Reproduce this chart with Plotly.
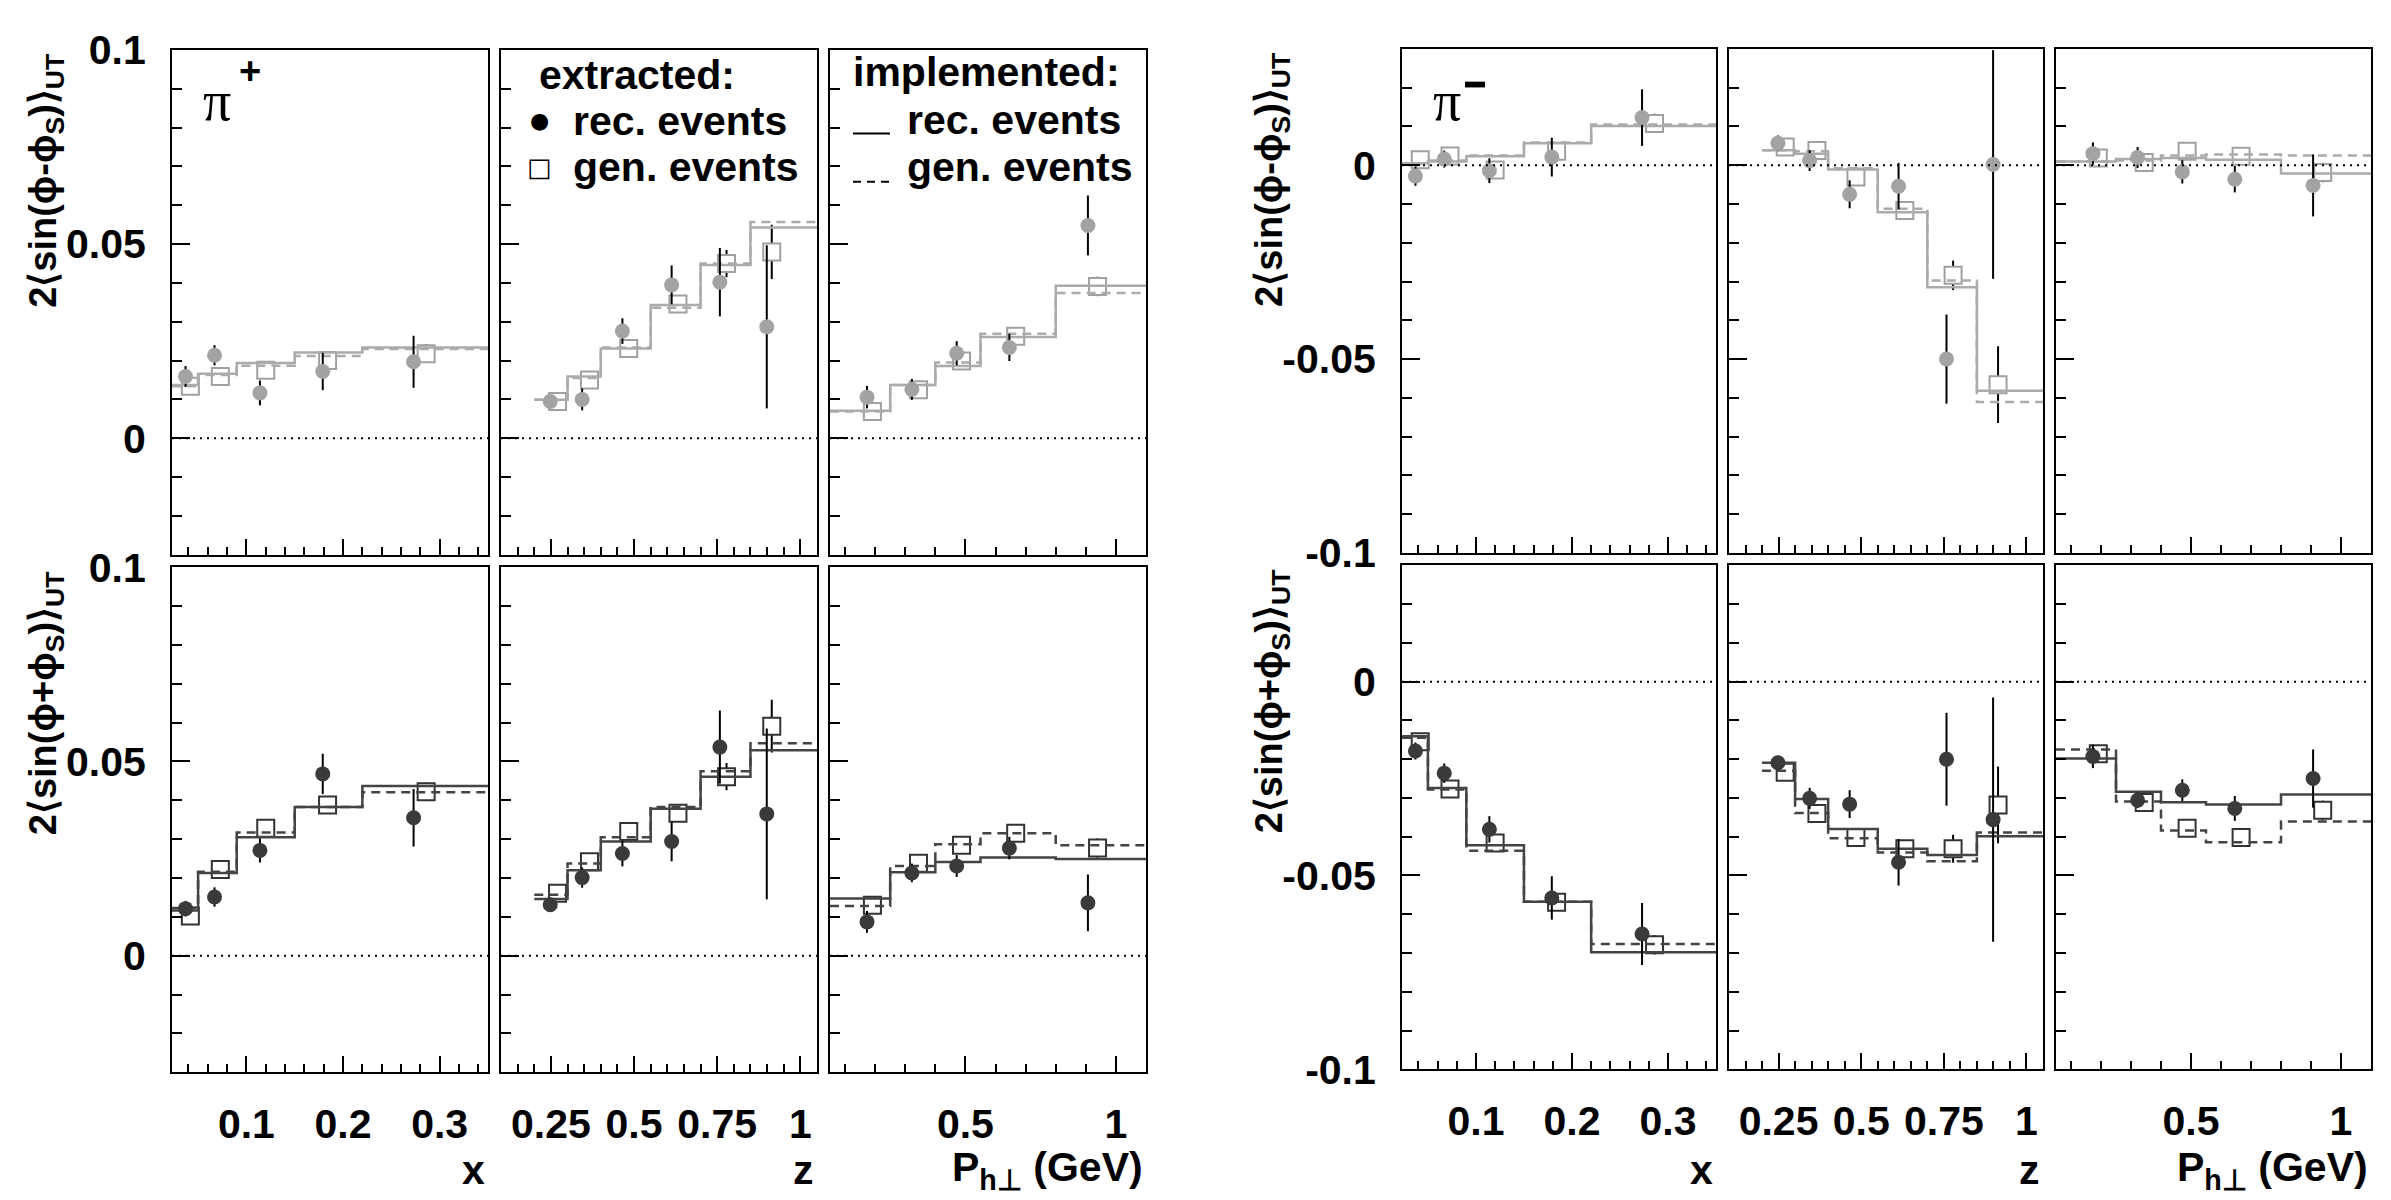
import plotly.graph_objects as go

W, H = 2391, 1200

# ---------------- binning / kinematic positions ----------------
X_EDGES = [0.023, 0.05, 0.09, 0.15, 0.22, 0.35]
Z_EDGES = [0.2, 0.3, 0.4, 0.55, 0.7, 0.85, 1.05]
PH_EDGES = [0.05, 0.25, 0.4, 0.55, 0.8, 1.1]

X_REC = [0.037, 0.067, 0.114, 0.179, 0.273]
X_GEN = [0.042, 0.073, 0.120, 0.184, 0.286]
Z_REC = [0.248, 0.344, 0.465, 0.613, 0.758, 0.899]
Z_GEN = [0.270, 0.366, 0.484, 0.632, 0.778, 0.914]
PH_REC = [0.173, 0.322, 0.471, 0.646, 0.907]
PH_GEN = [0.191, 0.344, 0.487, 0.667, 0.939]

# ---------------- pi+  2<sin(phi-phiS)>  ----------------
PIP_M_X_REC = [0.0159, 0.0214, 0.0117, 0.0172, 0.0197]
PIP_M_X_REC_ERR = [0.0027, 0.0026, 0.0032, 0.0048, 0.0067]
PIP_M_X_GEN = [0.0134, 0.0159, 0.0175, 0.0200, 0.0218]
PIP_M_X_GEN_ERR = [0.0010, 0.0010, 0.0012, 0.0015, 0.0024]
PIP_M_X_SOLID = [0.0137, 0.0166, 0.0194, 0.0221, 0.0234]
PIP_M_X_DASH = [0.0134, 0.0163, 0.0187, 0.0212, 0.0230]

PIP_M_Z_REC = [0.0095, 0.0100, 0.0276, 0.0395, 0.0402, 0.0287]
PIP_M_Z_REC_ERR = [0.0015, 0.0028, 0.0033, 0.0050, 0.0088, 0.0210]
PIP_M_Z_GEN = [0.0095, 0.0150, 0.0231, 0.0346, 0.0450, 0.0480]
PIP_M_Z_GEN_ERR = [0.0010, 0.0012, 0.0015, 0.0020, 0.0035, 0.0070]
PIP_M_Z_SOLID = [0.0099, 0.0159, 0.0231, 0.0343, 0.0446, 0.0543]
PIP_M_Z_DASH = [0.0099, 0.0155, 0.0234, 0.0336, 0.0450, 0.0557]

PIP_M_PH_REC = [0.0106, 0.0126, 0.0219, 0.0234, 0.0548]
PIP_M_PH_REC_ERR = [0.0029, 0.0027, 0.0031, 0.0035, 0.0077]
PIP_M_PH_GEN = [0.0069, 0.0125, 0.0199, 0.0263, 0.0391]
PIP_M_PH_GEN_ERR = [0.0010, 0.0010, 0.0012, 0.0015, 0.0025]
PIP_M_PH_SOLID = [0.0071, 0.0137, 0.0186, 0.0261, 0.0393]
PIP_M_PH_DASH = [0.0069, 0.0137, 0.0195, 0.0269, 0.0374]

# ---------------- pi+  2<sin(phi+phiS)>  ----------------
PIP_P_X_REC = [0.0121, 0.0151, 0.0271, 0.0468, 0.0355]
PIP_P_X_REC_ERR = [0.0020, 0.0025, 0.0031, 0.0052, 0.0074]
PIP_P_X_GEN = [0.0102, 0.0222, 0.0328, 0.0388, 0.0422]
PIP_P_X_GEN_ERR = [0.0010, 0.0010, 0.0012, 0.0015, 0.0024]
PIP_P_X_SOLID = [0.0116, 0.0213, 0.0305, 0.0383, 0.0437]
PIP_P_X_DASH = [0.0123, 0.0216, 0.0317, 0.0383, 0.0421]

PIP_P_Z_REC = [0.0131, 0.0201, 0.0263, 0.0294, 0.0537, 0.0365]
PIP_P_Z_REC_ERR = [0.0018, 0.0026, 0.0033, 0.0051, 0.0094, 0.0220]
PIP_P_Z_GEN = [0.0161, 0.0242, 0.0320, 0.0367, 0.0461, 0.0591]
PIP_P_Z_GEN_ERR = [0.0010, 0.0012, 0.0015, 0.0020, 0.0035, 0.0068]
PIP_P_Z_SOLID = [0.0146, 0.0220, 0.0294, 0.0378, 0.0461, 0.0529]
PIP_P_Z_DASH = [0.0157, 0.0237, 0.0305, 0.0383, 0.0475, 0.0547]

PIP_P_PH_REC = [0.0087, 0.0213, 0.0231, 0.0277, 0.0136]
PIP_P_PH_REC_ERR = [0.0028, 0.0024, 0.0028, 0.0029, 0.0073]
PIP_P_PH_GEN = [0.0130, 0.0238, 0.0284, 0.0315, 0.0277]
PIP_P_PH_GEN_ERR = [0.0010, 0.0010, 0.0012, 0.0015, 0.0025]
PIP_P_PH_SOLID = [0.0147, 0.0215, 0.0241, 0.0253, 0.0249]
PIP_P_PH_DASH = [0.0128, 0.0231, 0.0287, 0.0315, 0.0284]

# ---------------- pi-  2<sin(phi-phiS)>  ----------------
PIM_M_X_REC = [-0.0028, 0.0016, -0.0014, 0.0021, 0.0123]
PIM_M_X_REC_ERR = [0.0025, 0.0022, 0.0032, 0.0050, 0.0073]
PIM_M_X_GEN = [0.0014, 0.0024, -0.0012, 0.0036, 0.0108]
PIM_M_X_GEN_ERR = [0.0010, 0.0010, 0.0012, 0.0015, 0.0025]
PIM_M_X_SOLID = [0.0005, 0.0010, 0.0023, 0.0057, 0.0101]
PIM_M_X_DASH = [0.0005, 0.0012, 0.0025, 0.0059, 0.0105]

PIM_M_Z_REC = [0.0057, 0.0012, -0.0075, -0.0054, -0.0500, 0.0002]
PIM_M_Z_REC_ERR = [0.0020, 0.0027, 0.0036, 0.0060, 0.0115, 0.0295]
PIM_M_Z_GEN = [0.0047, 0.0038, -0.0030, -0.0117, -0.0284, -0.0566]
PIM_M_Z_GEN_ERR = [0.0010, 0.0012, 0.0015, 0.0022, 0.0038, 0.0099]
PIM_M_Z_SOLID = [0.0039, 0.0030, -0.0011, -0.0121, -0.0315, -0.0582]
PIM_M_Z_DASH = [0.0039, 0.0036, -0.0008, -0.0112, -0.0297, -0.0611]

PIM_M_PH_REC = [0.0030, 0.0020, -0.0017, -0.0036, -0.0052]
PIM_M_PH_REC_ERR = [0.0029, 0.0027, 0.0030, 0.0034, 0.0080]
PIM_M_PH_GEN = [0.0019, 0.0007, 0.0036, 0.0023, -0.0019]
PIM_M_PH_GEN_ERR = [0.0010, 0.0010, 0.0012, 0.0015, 0.0025]
PIM_M_PH_SOLID = [0.0010, 0.0016, 0.0019, 0.0014, -0.0021]
PIM_M_PH_DASH = [0.0010, 0.0012, 0.0025, 0.0028, 0.0025]

# ---------------- pi-  2<sin(phi+phiS)>  ----------------
PIM_P_X_REC = [-0.0179, -0.0236, -0.0381, -0.0558, -0.0651]
PIM_P_X_REC_ERR = [0.0022, 0.0025, 0.0034, 0.0056, 0.0080]
PIM_P_X_GEN = [-0.0155, -0.0277, -0.0416, -0.0569, -0.0679]
PIM_P_X_GEN_ERR = [0.0010, 0.0010, 0.0012, 0.0015, 0.0025]
PIM_P_X_SOLID = [-0.0141, -0.0274, -0.0422, -0.0568, -0.0698]
PIM_P_X_DASH = [-0.0145, -0.0278, -0.0436, -0.0568, -0.0677]

PIM_P_Z_REC = [-0.0209, -0.0301, -0.0316, -0.0466, -0.0200, -0.0356]
PIM_P_Z_REC_ERR = [0.0018, 0.0027, 0.0036, 0.0060, 0.0120, 0.0315]
PIM_P_Z_GEN = [-0.0234, -0.0340, -0.0402, -0.0431, -0.0431, -0.0318]
PIM_P_Z_GEN_ERR = [0.0010, 0.0012, 0.0015, 0.0020, 0.0036, 0.0099]
PIM_P_Z_SOLID = [-0.0209, -0.0303, -0.0380, -0.0431, -0.0447, -0.0399]
PIM_P_Z_DASH = [-0.0230, -0.0339, -0.0404, -0.0441, -0.0463, -0.0389]

PIM_P_PH_REC = [-0.0193, -0.0306, -0.0280, -0.0327, -0.0250]
PIM_P_PH_REC_ERR = [0.0030, 0.0020, 0.0028, 0.0032, 0.0075]
PIM_P_PH_GEN = [-0.0186, -0.0312, -0.0378, -0.0402, -0.0332]
PIM_P_PH_GEN_ERR = [0.0010, 0.0010, 0.0012, 0.0015, 0.0025]
PIM_P_PH_SOLID = [-0.0198, -0.0284, -0.0311, -0.0317, -0.0291]
PIM_P_PH_DASH = [-0.0175, -0.0309, -0.0384, -0.0414, -0.0361]

# ---------------- axis tick labels ----------------
X_TICKVALS = [0.1, 0.2, 0.3]
X_TICKTEXT = ["0.1", "0.2", "0.3"]
Z_TICKVALS = [0.25, 0.5, 0.75, 1.0]
Z_TICKTEXT = ["0.25", "0.5", "0.75", "1"]
PH_TICKVALS = [0.5, 1.0]
PH_TICKTEXT = ["0.5", "1"]
YL_TICKVALS = [0.0, 0.05, 0.1]
YL_TICKTEXT = ["0", "0.05", "0.1"]
YR_TICKVALS = [-0.1, -0.05, 0.0]
YR_TICKTEXT = ["-0.1", "-0.05", "0"]

# ---------------- layout geometry (pixels) ----------------
COLS = {0: [(172, 488), (501, 817), (830, 1146)],
        1: [(1402, 1716), (1729, 2043), (2056, 2371)]}
ROWS = {0: [(28, 553), (566, 1091)],
        1: [(27, 551), (564, 1088)]}

VARS = [
    dict(edges=X_EDGES, xr=X_REC, xg=X_GEN, rng=[0.023, 0.35], tv=X_TICKVALS, tt=X_TICKTEXT, minor=0.02),
    dict(edges=Z_EDGES, xr=Z_REC, xg=Z_GEN, rng=[0.1, 1.05], tv=Z_TICKVALS, tt=Z_TICKTEXT, minor=0.05),
    dict(edges=PH_EDGES, xr=PH_REC, xg=PH_GEN, rng=[0.05, 1.1], tv=PH_TICKVALS, tt=PH_TICKTEXT, minor=0.1),
]

PANELS = {
    (0, 0): [(PIP_M_X_REC, PIP_M_X_REC_ERR, PIP_M_X_GEN, PIP_M_X_GEN_ERR, PIP_M_X_SOLID, PIP_M_X_DASH),
             (PIP_M_Z_REC, PIP_M_Z_REC_ERR, PIP_M_Z_GEN, PIP_M_Z_GEN_ERR, PIP_M_Z_SOLID, PIP_M_Z_DASH),
             (PIP_M_PH_REC, PIP_M_PH_REC_ERR, PIP_M_PH_GEN, PIP_M_PH_GEN_ERR, PIP_M_PH_SOLID, PIP_M_PH_DASH)],
    (0, 1): [(PIP_P_X_REC, PIP_P_X_REC_ERR, PIP_P_X_GEN, PIP_P_X_GEN_ERR, PIP_P_X_SOLID, PIP_P_X_DASH),
             (PIP_P_Z_REC, PIP_P_Z_REC_ERR, PIP_P_Z_GEN, PIP_P_Z_GEN_ERR, PIP_P_Z_SOLID, PIP_P_Z_DASH),
             (PIP_P_PH_REC, PIP_P_PH_REC_ERR, PIP_P_PH_GEN, PIP_P_PH_GEN_ERR, PIP_P_PH_SOLID, PIP_P_PH_DASH)],
    (1, 0): [(PIM_M_X_REC, PIM_M_X_REC_ERR, PIM_M_X_GEN, PIM_M_X_GEN_ERR, PIM_M_X_SOLID, PIM_M_X_DASH),
             (PIM_M_Z_REC, PIM_M_Z_REC_ERR, PIM_M_Z_GEN, PIM_M_Z_GEN_ERR, PIM_M_Z_SOLID, PIM_M_Z_DASH),
             (PIM_M_PH_REC, PIM_M_PH_REC_ERR, PIM_M_PH_GEN, PIM_M_PH_GEN_ERR, PIM_M_PH_SOLID, PIM_M_PH_DASH)],
    (1, 1): [(PIM_P_X_REC, PIM_P_X_REC_ERR, PIM_P_X_GEN, PIM_P_X_GEN_ERR, PIM_P_X_SOLID, PIM_P_X_DASH),
             (PIM_P_Z_REC, PIM_P_Z_REC_ERR, PIM_P_Z_GEN, PIM_P_Z_GEN_ERR, PIM_P_Z_SOLID, PIM_P_Z_DASH),
             (PIM_P_PH_REC, PIM_P_PH_REC_ERR, PIM_P_PH_GEN, PIM_P_PH_GEN_ERR, PIM_P_PH_SOLID, PIM_P_PH_DASH)],
}

ROW_STYLE = {
    0: dict(marker="#a3a3a3", square="#a0a0a0", step="#ababab"),
    1: dict(marker="#3a3a3a", square="#333333", step="#444444"),
}

FONT = "Liberation Sans"
TICKFONT = dict(family=FONT, size=41, color="black", weight="bold")

fig = go.Figure()
layout = dict(width=W, height=H, margin=dict(l=0, r=0, t=0, b=0),
              paper_bgcolor="white", plot_bgcolor="rgba(0,0,0,0)", showlegend=False)
shapes = []
annotations = []


def px_x(p):
    return p / W


def px_y(p):
    return 1 - p / H


for g in (0, 1):
    for r in (0, 1):
        for c in (0, 1, 2):
            k = g * 6 + r * 3 + c + 1
            xa = "x" if k == 1 else f"x{k}"
            ya = "y" if k == 1 else f"y{k}"
            v = VARS[c]
            rec, rec_err, gen, gen_err, solid, dash = PANELS[(g, r)][c]
            st = ROW_STYLE[r]
            xc = COLS[g][c]
            yr = ROWS[g][r]

            layout["xaxis" if k == 1 else f"xaxis{k}"] = dict(
                domain=[px_x(xc[0]), px_x(xc[1])], range=v["rng"], anchor=ya,
                showgrid=False, zeroline=False, showline=True, linewidth=2,
                linecolor="black", mirror=True, ticks="inside", ticklen=16,
                tickwidth=2, tickcolor="black", tickmode="array", tickvals=v["tv"],
                ticktext=v["tt"], showticklabels=(r == 1), tickfont=TICKFONT,
                ticklabelstandoff=15,
                minor=dict(ticks="inside", ticklen=8, tickwidth=2, tickcolor="black",
                           tickmode="linear", tick0=0, dtick=v["minor"], showgrid=False),
                fixedrange=True)
            yrng = [-0.03, 0.1] if g == 0 else [-0.1, 0.03]
            layout["yaxis" if k == 1 else f"yaxis{k}"] = dict(
                domain=[px_y(yr[1]), px_y(yr[0])], range=yrng, anchor=xa,
                showgrid=False, zeroline=False, showline=True, linewidth=2,
                linecolor="black", mirror=True, ticks="inside", ticklen=18,
                tickwidth=2, tickcolor="black", tickmode="array",
                tickvals=YL_TICKVALS if g == 0 else YR_TICKVALS,
                ticktext=YL_TICKTEXT if g == 0 else YR_TICKTEXT,
                showticklabels=(c == 0), tickfont=TICKFONT, ticklabelstandoff=16,
                minor=dict(ticks="inside", ticklen=10, tickwidth=2, tickcolor="black",
                           tickmode="linear", tick0=0, dtick=0.01, showgrid=False),
                fixedrange=True)

            # zero line (dotted)
            shapes.append(dict(type="line", xref=f"{xa} domain", yref=ya, x0=0, x1=1,
                               y0=0, y1=0, line=dict(color="black", width=2, dash="2px,5px")))

            edges = v["edges"]
            # generated (open squares; white interior hides the error bar inside the marker)
            fig.add_trace(go.Scatter(x=v["xg"], y=gen, xaxis=xa, yaxis=ya, mode="markers",
                                     marker=dict(symbol="square", size=17, color="white",
                                                 line=dict(width=2, color=st["square"])),
                                     error_y=dict(type="data", array=gen_err, color="black",
                                                  thickness=2, width=0),
                                     hoverinfo="skip"))
            fig.add_trace(go.Scatter(x=edges, y=list(solid) + [solid[-1]], xaxis=xa, yaxis=ya,
                                     mode="lines", line=dict(shape="hv", color=st["step"], width=2.5),
                                     hoverinfo="skip"))
            fig.add_trace(go.Scatter(x=edges, y=list(dash) + [dash[-1]], xaxis=xa, yaxis=ya,
                                     mode="lines", line=dict(shape="hv", color=st["step"], width=2.5,
                                                             dash="9px,6px"),
                                     hoverinfo="skip"))
            fig.add_trace(go.Scatter(x=v["xr"], y=rec, xaxis=xa, yaxis=ya, mode="markers",
                                     marker=dict(symbol="circle", size=15, color=st["marker"],
                                                 line=dict(width=0)),
                                     error_y=dict(type="data", array=rec_err, color="black",
                                                  thickness=2, width=0),
                                     hoverinfo="skip"))

# ---------------- axis titles ----------------
TITLE_FONT = dict(family=FONT, size=41, color="black", weight="bold")
for g in (0, 1):
    for c, txt in enumerate(["x", "z", "P<sub>h\u22a5</sub> (GeV)"]):
        annotations.append(dict(xref="paper", yref="paper", x=px_x(COLS[g][c][1] - 1), y=px_y(1193),
                                xanchor="right", yanchor="middle", text=txt, showarrow=False,
                                font=TITLE_FONT))
    ytx = 46 if g == 0 else 1272
    for r, txt in enumerate(["2\u27e8sin(\u03d5-\u03d5<sub>S</sub>)\u27e9<sub>UT</sub>",
                             "2\u27e8sin(\u03d5+\u03d5<sub>S</sub>)\u27e9<sub>UT</sub>"]):
        annotations.append(dict(xref="paper", yref="paper", x=px_x(ytx), y=px_y(ROWS[g][r][0] + 2),
                                xanchor="center", yanchor="top", text=txt, textangle=-90,
                                showarrow=False,
                                font=dict(family=FONT, size=38, color="black", weight="bold")))

# ---------------- particle labels ----------------
annotations.append(dict(xref="paper", yref="paper", x=px_x(201), y=px_y(81), xanchor="left",
                        yanchor="middle", text="\u03c0", showarrow=False,
                        font=dict(family="Liberation Serif", size=56, color="black")))
annotations.append(dict(xref="paper", yref="paper", x=px_x(250), y=px_y(50), xanchor="center",
                        yanchor="middle", text="+", showarrow=False,
                        font=dict(family=FONT, size=38, color="black", weight="bold")))
annotations.append(dict(xref="paper", yref="paper", x=px_x(1431), y=px_y(81), xanchor="left",
                        yanchor="middle", text="\u03c0", showarrow=False,
                        font=dict(family="Liberation Serif", size=56, color="black")))
shapes.append(dict(type="rect", xref="paper", yref="paper", x0=px_x(1465), x1=px_x(1485),
                   y0=px_y(67), y1=px_y(61), fillcolor="black", line=dict(width=0)))

# ---------------- legends ----------------
LEG_FONT = dict(family=FONT, size=41, color="black", weight="bold")
for x, y, t in [(537, 54, "extracted:"), (571, 102, "rec. events"), (571, 150, "gen. events"),
                (851, 51, "implemented:"), (905, 101, "rec. events"), (905, 150, "gen. events")]:
    annotations.append(dict(xref="paper", yref="paper", x=px_x(x), y=px_y(y), xanchor="left",
                            yanchor="middle", text=t, showarrow=False, font=LEG_FONT))
# legend symbols drawn as glyphs so they sit on the same line as their text
annotations.append(dict(xref="paper", yref="paper", x=px_x(539), y=px_y(101), xanchor="center",
                        yanchor="middle", text="\u25cf", showarrow=False,
                        font=dict(family="DejaVu Sans", size=22, color="black")))
annotations.append(dict(xref="paper", yref="paper", x=px_x(539), y=px_y(150), xanchor="center",
                        yanchor="middle", text="\u25a1", showarrow=False,
                        font=dict(family="DejaVu Sans", size=26, color="black")))
shapes.append(dict(type="line", xref="paper", yref="paper", x0=px_x(853), x1=px_x(890),
                   y0=px_y(115), y1=px_y(115), line=dict(color="black", width=2)))
shapes.append(dict(type="line", xref="paper", yref="paper", x0=px_x(853), x1=px_x(890),
                   y0=px_y(165), y1=px_y(165), line=dict(color="black", width=2, dash="8px,6px")))

layout["shapes"] = shapes
layout["annotations"] = annotations
fig.update_layout(**layout)
fig.write_html("out.html")
